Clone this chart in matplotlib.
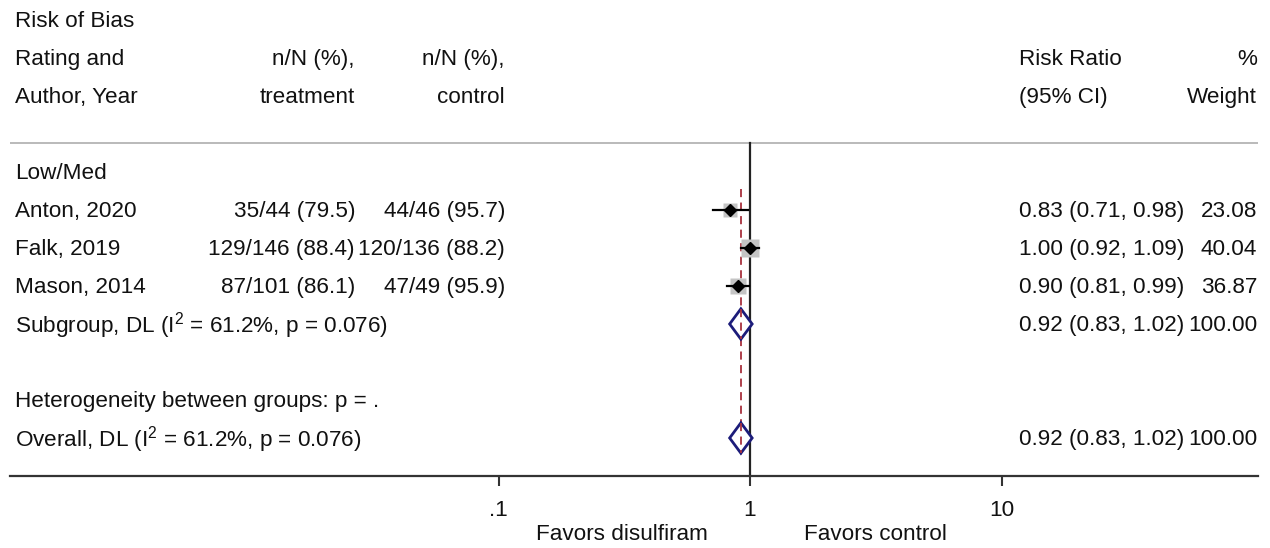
import numpy as np
import matplotlib
matplotlib.use("Agg")
import matplotlib.pyplot as plt
import matplotlib.transforms as mtransforms

plt.rcParams['font.family'] = ['Liberation Sans', 'DejaVu Sans']
plt.rcParams['mathtext.fontset'] = 'custom'
plt.rcParams['mathtext.rm'] = 'Liberation Sans'

# study level data
studies = ["Anton, 2020", "Falk, 2019", "Mason, 2014"]
treat_txt = ["35/44 (79.5)", "129/146 (88.4)", "87/101 (86.1)"]
ctrl_txt = ["44/46 (95.7)", "120/136 (88.2)", "47/49 (95.9)"]
rr = [0.83, 1.00, 0.90]
rr_lo = [0.71, 0.92, 0.81]
rr_hi = [0.98, 1.09, 0.99]
weight = [23.08, 40.04, 36.87]

# pooled DL estimate (subgroup == overall, single group)
pooled = 0.92
pooled_lo = 0.83
pooled_hi = 1.02
i2_txt = "61.2%"
p_txt = "0.076"

xticks = [0.1, 1, 10]
xtick_labels = [".1", "1", "10"]

W, H = 1270, 548
fs = 16.2
fig = plt.figure(figsize=(W / 100, H / 100), dpi=100)
ax = fig.add_axes([10 / W, 72 / H, 1248 / W, 476 / H])
ax.set_xscale('log')
dec = 251.5  # px per decade
ax.set_xlim(10 ** ((10 - 750) / dec), 10 ** ((1258 - 750) / dec))
ax.set_ylim(12, -20 / 38)

for s in ['left', 'right', 'top']:
    ax.spines[s].set_visible(False)
ax.spines['bottom'].set_color('#333333')
ax.spines['bottom'].set_linewidth(1.6)
ax.set_yticks([])
ax.set_xticks(xticks)
ax.set_xticklabels(xtick_labels, fontsize=fs, color='#111111')
ax.xaxis.set_minor_locator(matplotlib.ticker.NullLocator())
ax.tick_params(axis='x', direction='out', length=7.5, width=1.5, color='#333333', pad=10)

tr = mtransforms.blended_transform_factory(fig.transFigure, ax.transData)

def put(xpx, row, s, ha='left'):
    fig.text(xpx / W, row + 0.05, s, transform=tr, ha=ha, va='center', fontsize=fs, color='#111111')

# header
put(15, 0, "Risk of Bias")
put(15, 1, "Rating and")
put(15, 2, "Author, Year")
put(355, 1, "n/N (%),", 'right')
put(355, 2, "treatment", 'right')
put(505, 1, "n/N (%),", 'right')
put(505, 2, "control", 'right')
put(1019, 1, "Risk Ratio")
put(1019, 2, "(95% CI)")
put(1257, 1, "%", 'right')
put(1257, 2, "Weight", 'right')

ax.axhline(3.24, color='#b4b4b4', lw=1.3)

put(15, 4, "Low/Med")

rows = np.arange(5, 5 + len(studies))
for i, r in enumerate(rows):
    put(15, r, studies[i])
    put(355, r, treat_txt[i], 'right')
    put(505, r, ctrl_txt[i], 'right')
    put(1019, r, f"{rr[i]:.2f} ({rr_lo[i]:.2f}, {rr_hi[i]:.2f})")
    put(1257, r, f"{weight[i]:.2f}", 'right')

# null line and overall line
ax.plot([1, 1], [3.24, 12], color='#222222', lw=1.6, zorder=2)
ax.plot([pooled, pooled], [4.45, 11.45], color='#a8323e', lw=1.3,
        ls=(0, (4.5, 3)), zorder=3)

# weighted boxes, point estimates and CIs
for i, r in enumerate(rows):
    ax.plot([rr[i]], [r], marker='s', ms=2.0 * np.sqrt(weight[i]),
            color='#c4c4c4', mec='none', zorder=3)
    ax.plot([rr_lo[i], rr_hi[i]], [r, r], color='black', lw=1.6, zorder=4)
    ax.plot([rr[i]], [r], marker='D', ms=6, color='black', zorder=5)

sub_row = rows[-1] + 1
ov_row = sub_row + 3
for row in (sub_row, ov_row):
    ax.fill([pooled_lo, pooled, pooled_hi, pooled], [row, row - 0.4, row, row + 0.4],
            facecolor='white', edgecolor='#1c1c7a', lw=2.0, zorder=6)
    ax.plot([pooled, pooled], [row - 0.4, row + 0.4], color='#a8323e', lw=1.3,
            ls=(0, (4.5, 3)), zorder=7)
    put(1019, row, f"{pooled:.2f} ({pooled_lo:.2f}, {pooled_hi:.2f})")
    put(1257, row, "100.00", 'right')

put(15, sub_row, f"Subgroup, DL (I$^{{\\mathregular{{2}}}}$ = {i2_txt}, p = {p_txt})")
put(15, sub_row + 2, "Heterogeneity between groups: p = .")
put(15, ov_row, f"Overall, DL (I$^{{\\mathregular{{2}}}}$ = {i2_txt}, p = {p_txt})")

# direction labels under the axis
fig.text(622 / W, 1 - 534 / H, "Favors disulfiram", ha='center', va='center', fontsize=fs, color='#111111')
fig.text(875 / W, 1 - 534 / H, "Favors control", ha='center', va='center', fontsize=fs, color='#111111')

fig.savefig("out.png", dpi=100, facecolor='white')
